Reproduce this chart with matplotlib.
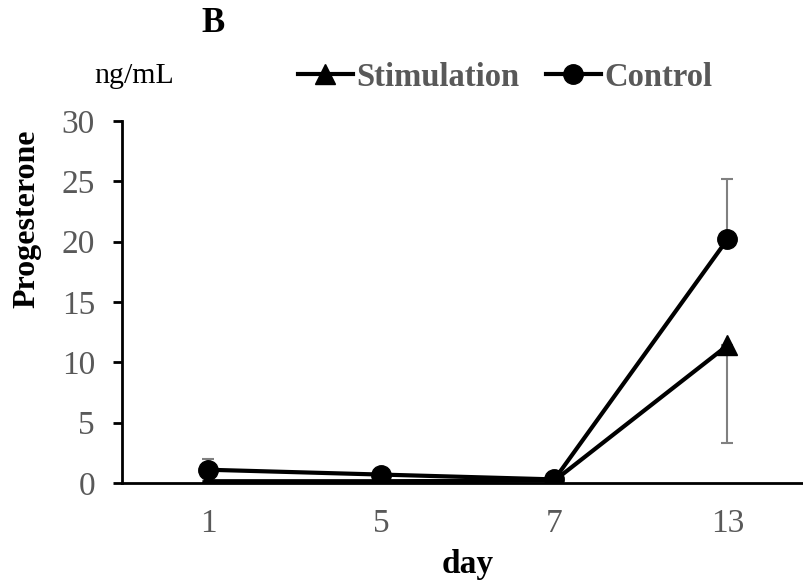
import matplotlib.pyplot as plt
import numpy as np

plt.rcParams['font.family'] = 'Liberation Serif'

days = ['1', '5', '7', '13']
stim = [0.15, 0.15, 0.2, 11.4]
stim_err_low = [0.1, 0.1, 0.1, 8.1]
ctrl = [1.1, 0.7, 0.3, 20.2]
ctrl_err_up = [0.9, 0.1, 0.1, 5.0]

gray = '#595959'
x = np.arange(len(days))

fig = plt.figure(figsize=(8.04, 5.84), dpi=100)
ax = fig.add_axes([0.1517, 0.1729, 0.8607, 0.6199])

ax.errorbar(x, stim, yerr=[stim_err_low, np.zeros(len(days))], fmt='none',
            ecolor='#808080', elinewidth=1.5, capsize=4.5, capthick=1.5)
ax.errorbar(x, ctrl, yerr=[np.zeros(len(days)), ctrl_err_up], fmt='none',
            ecolor='#808080', elinewidth=1.5, capsize=4.5, capthick=1.5)
ax.plot(x, stim, color='black', lw=3, marker='^', ms=14, label='Stimulation')
ax.plot(x, ctrl, color='black', lw=3, marker='o', ms=14, label='Control')

ax.set_xlim(-0.5, 3.5)
ax.set_ylim(0, 30)
ax.set_yticks(range(0, 31, 5))
ax.set_xticks(x)
ax.set_xticklabels(days)
ax.tick_params(axis='y', direction='out', length=6.5, width=2, labelsize=24,
               labelcolor=gray, pad=13)
ax.tick_params(axis='x', length=0, labelsize=24, labelcolor=gray, pad=18.5)
for s in ['top', 'right']:
    ax.spines[s].set_visible(False)
ax.spines['left'].set_linewidth(2)
ax.spines['bottom'].set_linewidth(2)

ax.set_xlabel('day', fontsize=24, fontweight='bold', va='top')
ax.xaxis.set_label_coords(468 / 804, 1 - 549 / 584, transform=fig.transFigure)
ax.set_ylabel('Progesterone', fontsize=23, fontweight='bold', va='center')
ax.yaxis.set_label_coords(27 / 804, 1 - 219 / 584, transform=fig.transFigure)

fig.text(213 / 804, 1 - 23 / 584, 'B', fontsize=25, fontweight='bold',
         ha='center', va='center')
fig.text(134 / 804, 1 - 76 / 584, 'ng/mL', fontsize=21.5, ha='center', va='center')

leg = fig.legend(loc='center', bbox_to_anchor=(505 / 804, 1 - 77 / 584), ncol=2,
                 frameon=False, prop={'weight': 'bold', 'size': 23.5},
                 handlelength=1.7, columnspacing=0.8, handletextpad=0.1,
                 borderpad=0, borderaxespad=0)
for t in leg.get_texts():
    t.set_color(gray)

fig.savefig('out.png', dpi=100)
